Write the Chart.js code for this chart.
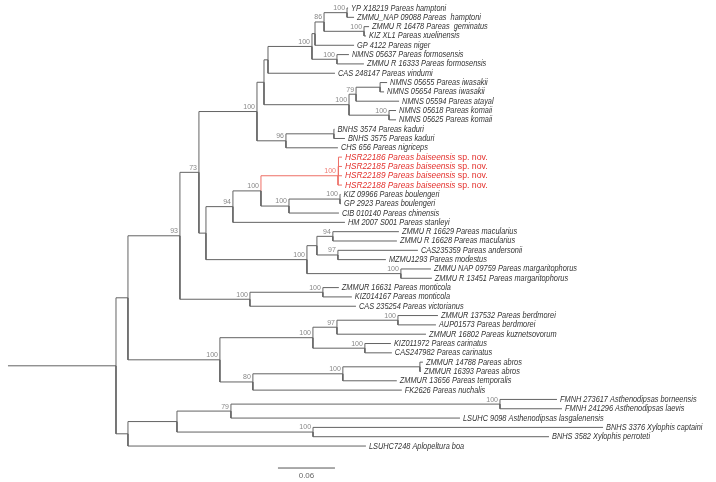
<!DOCTYPE html>
<html>
<head>
<meta charset="utf-8">
<script src="https://cdn.jsdelivr.net/npm/chart.js@4.4.1/dist/chart.umd.min.js"></script>
<style>
  html, body { margin: 0; padding: 0; background: #fff; }
  #wrap { width: 716px; height: 482px; }
</style>
</head>
<body>
<div id="wrap"><canvas id="tree"></canvas></div>
<script>
// tip names, numbered 1..48 as they are used in the tree string
const taxa = [
  "YP X18219 Pareas hamptoni", "ZMMU_NAP 09088 Pareas  hamptoni", "ZMMU R 16478 Pareas  geminatus",
  "KIZ XL1 Pareas xuelinensis", "GP 4122 Pareas niger", "NMNS 05637 Pareas formosensis",
  "ZMMU R 16333 Pareas formosensis", "CAS 248147 Pareas vindumi", "NMNS 05655 Pareas iwasakii",
  "NMNS 05654 Pareas iwasakii", "NMNS 05594 Pareas atayal", "NMNS 05618 Pareas komaii",
  "NMNS 05625 Pareas komaii", "BNHS 3574 Pareas kaduri", "BNHS 3575 Pareas kaduri",
  "CHS 656 Pareas nigriceps", "HSR22186 Pareas baiseensis", "HSR22185 Pareas baiseensis",
  "HSR22189 Pareas baiseensis", "HSR22188 Pareas baiseensis", "KIZ 09966 Pareas boulengeri",
  "GP 2923 Pareas boulengeri", "CIB 010140 Pareas chinensis", "HM 2007 S001 Pareas stanleyi",
  "ZMMU R 16629 Pareas macularius", "ZMMU R 16628 Pareas macularius", "CAS235359 Pareas andersonii",
  "MZMU1293 Pareas modestus", "ZMMU NAP 09759 Pareas margaritophorus", "ZMMU R 13451 Pareas margaritophorus",
  "ZMMUR 16631 Pareas monticola", "KIZ014167 Pareas monticola", "CAS 235254 Pareas victorianus",
  "ZMMUR 137532 Pareas berdmorei", "AUP01573 Pareas berdmorei", "ZMMUR 16802 Pareas kuznetsovorum",
  "KIZ011972 Pareas carinatus", "CAS247982 Pareas carinatus", "ZMMUR 14788 Pareas abros",
  "ZMMUR 16393 Pareas abros", "ZMMUR 13656 Pareas temporalis", "FK2626 Pareas nuchalis",
  "FMNH 273617 Asthenodipsas borneensis", "FMNH 241296 Asthenodipsas laevis",
  "LSUHC 9098 Asthenodipsas lasgalenensis", "BNHS 3376 Xylophis captaini",
  "BNHS 3582 Xylophis perroteti", "LSUHC7248 Aplopeltura boa"
];

// the new species, drawn in red
const newSpecies = [17, 18, 19, 20];

// branch lengths (subst./site) and support values
const treeNewick =
  "(((((" +
  "(((((((1:0.0011,2:0.0074)100:0.0242,(3:0.0053,4:0.0021)100:0.0421)86:0.0095,5:0.0411):0.0032," +
  "(6:0.0126,7:0.0284)100:0.0263)100:0.0463,8:0.0705):0.0042," +
  "(((9:0.0074,10:0.0042):0.0253,11:0.0453)79:0.0074,(12:0.0074,13:0.0074)100:0.0421)100:0.0895):0.0074," +
  "((14:0.0005,15:0.0116):0.0505,16:0.0547)96:0.0305)100:0.0611," +
  "(((((17:0.0037,18:0.0037,19:0.0037):0.0005,20:0.0042)100:0.0811," +
  "((21:0.0005,22:0.0011)100:0.0537,23:0.0526)100:0.0295)100:0.0295,24:0.1179)94:0.0284," +
  "(((25:0.0695,26:0.0674)94:0.0168,(27:0.0842,28:0.0505)97:0.0221):0.0105," +
  "(29:0.0316,30:0.0326)100:0.0989)100:0.1063):0.0074)73:0.0200," +
  "((31:0.0168,32:0.0305)100:0.0768,33:0.1116)100:0.0737)93:0.0547," +
  "((((34:0.0421,35:0.0400)100:0.0642,36:0.0937)97:0.0253,(37:0.0274,38:0.0284)100:0.0547)100:0.0979," +
  "(((39:0.0032,40:0.0011):0.0811,41:0.0568)100:0.0947,42:0.1568)80:0.0347)100:0.0968):0.0126," +
  "((((43:0.0600,44:0.0653)100:0.2832,45:0.2411)79:0.0568,(46:0.3053,47:0.2484)100:0.1432):0.0516," +
  "48:0.2505):0.0126):0.1137;";

const scaleBar = 0.06;

function parseNewick(s) {
  let i = 0;
  function node() {
    const n = { children: [], label: "", length: 0 };
    if (s[i] === "(") {
      i++;
      n.children.push(node());
      while (s[i] === ",") { i++; n.children.push(node()); }
      i++; // ")"
    }
    while (i < s.length && !":,);".includes(s[i])) n.label += s[i++];
    if (s[i] === ":") {
      i++;
      let num = "";
      while (i < s.length && !",);".includes(s[i])) num += s[i++];
      n.length = parseFloat(num);
    }
    return n;
  }
  return node();
}

const root = parseNewick(treeNewick);
const nodes = [];
let tipOrder = 0;

function layout(n, x) {
  n.x = x + n.length;
  nodes.push(n);
  if (!n.children.length) {
    n.y = ++tipOrder;
    n.red = newSpecies.includes(+n.label);
  } else {
    n.children.forEach(c => layout(c, n.x));
    n.y = (n.children[0].y + n.children[n.children.length - 1].y) / 2;
    n.red = n.children.every(c => c.red);
  }
}
layout(root, 0);

const gap = { x: null, y: null };
const blackLines = [{ x: 0, y: root.y }, { x: root.x, y: root.y }, gap];
const redLines = [];
nodes.forEach(n => {
  n.children.forEach(c => {
    (c.red ? redLines : blackLines).push(
      { x: n.x, y: n.y }, { x: n.x, y: c.y }, { x: c.x, y: c.y }, gap);
  });
});

const barX = 0.2842, barY = 50.36;

const FONT = '"Liberation Sans", Arial, sans-serif';
const squeeze = 0.82; // tip labels are set in a narrow face

const treeLabels = {
  id: "treeLabels",
  afterDatasetsDraw(chart) {
    const ctx = chart.ctx, xs = chart.scales.x, ys = chart.scales.y;
    ctx.save();
    nodes.forEach(n => {
      const px = xs.getPixelForValue(n.x), py = ys.getPixelForValue(n.y);
      if (!n.children.length) {
        const name = taxa[+n.label - 1];
        ctx.save();
        ctx.translate(px + 3, py);
        ctx.scale(n.red ? 0.92 : squeeze, 1);
        ctx.textAlign = "left";
        ctx.textBaseline = "middle";
        ctx.font = "italic 9px " + FONT;
        ctx.fillStyle = n.red ? "#e3302c" : "#333";
        ctx.fillText(name, 0, 0);
        if (n.red) {
          const w = ctx.measureText(name + " ").width;
          ctx.font = "9.5px " + FONT;
          ctx.fillText("sp. nov.", w, 0);
        }
        ctx.restore();
      } else if (n.label) {
        ctx.textAlign = "right";
        ctx.textBaseline = "bottom";
        ctx.font = "7px " + FONT;
        ctx.fillStyle = n.red ? "#ee7a72" : "#888";
        ctx.fillText(n.label, px - 2, py - 1);
      }
    });
    ctx.textAlign = "center";
    ctx.textBaseline = "top";
    ctx.font = "8px " + FONT;
    ctx.fillStyle = "#666";
    ctx.fillText(String(scaleBar), xs.getPixelForValue(barX + scaleBar / 2), ys.getPixelForValue(barY) + 4);
    ctx.restore();
  }
};

const lineStyle = { pointRadius: 0, borderWidth: 1, spanGaps: false, tension: 0, borderJoinStyle: "miter" };

new Chart(document.getElementById("tree"), {
  type: "line",
  data: {
    datasets: [
      Object.assign({ data: blackLines, borderColor: "#636363" }, lineStyle),
      Object.assign({ data: redLines, borderColor: "#ee6f66" }, lineStyle),
      Object.assign({ data: [{ x: barX, y: barY }, { x: barX + scaleBar, y: barY }], borderColor: "#555" }, lineStyle)
    ]
  },
  options: {
    responsive: true,
    maintainAspectRatio: false,
    animation: false,
    events: [],
    layout: { padding: 0 },
    plugins: { legend: { display: false }, tooltip: { enabled: false } },
    scales: {
      x: { type: "linear", display: false, min: -0.0084, max: 0.7453 },
      y: { type: "linear", display: false, reverse: true, min: 0.1416, max: 51.859 }
    }
  },
  plugins: [treeLabels]
});
</script>
</body>
</html>
